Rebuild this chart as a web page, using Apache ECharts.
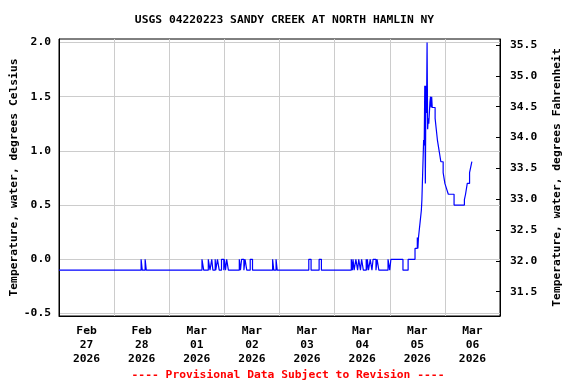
<!DOCTYPE html>
<html>
<head>
<meta charset="utf-8">
<script src="https://cdn.jsdelivr.net/npm/echarts@6/dist/echarts.min.js"></script>
<style>
html,body{margin:0;padding:0;background:#fff;}
#chart{width:576px;height:384px;}
</style>
</head>
<body>
<div id="chart"></div>
<script>
// ---- Data ----
const titleText = 'USGS 04220223 SANDY CREEK AT NORTH HAMLIN NY';
const footerText = '---- Provisional Data Subject to Revision ----';
const leftAxisName = 'Temperature, water, degrees Celsius';
const rightAxisName = 'Temperature, water, degrees Fahrenheit';

// day labels (centered on each day)
const dayLabels = ['Feb\n27\n2026','Feb\n28\n2026','Mar\n01\n2026','Mar\n02\n2026','Mar\n03\n2026','Mar\n04\n2026','Mar\n05\n2026','Mar\n06\n2026'];
const celsiusTicks = [-0.5, 0.0, 0.5, 1.0, 1.5, 2.0];
const fahrenheitTicks = [31.5, 32.0, 32.5, 33.0, 33.5, 34.0, 34.5, 35.0, 35.5];

// times where the reading changes (2026, MM-DD HH:MM) and the value from then on (deg C)
const changeTimes = [
 '02-27 00:00',
 '02-28 11:45','02-28 12:15','02-28 13:30','02-28 14:00',
 '03-01 14:15','03-01 15:00','03-01 17:00','03-01 17:45','03-01 18:30','03-01 19:00',
 '03-01 20:00','03-01 20:15','03-01 21:00','03-01 21:45','03-01 22:45','03-01 23:45',
 '03-02 00:00','03-02 00:30','03-02 01:00','03-02 01:45','03-02 06:30','03-02 07:00',
 '03-02 07:30','03-02 08:30','03-02 09:00','03-02 09:45','03-02 11:15','03-02 12:15',
 '03-02 21:00','03-02 21:30','03-02 22:30','03-02 23:00',
 '03-03 12:45','03-03 13:45','03-03 17:15','03-03 18:15',
 '03-04 07:15','03-04 07:45','03-04 08:00','03-04 08:30','03-04 09:15','03-04 10:00',
 '03-04 10:30','03-04 11:15','03-04 11:45','03-04 12:30','03-04 13:45','03-04 14:00',
 '03-04 14:15','03-04 14:45','03-04 15:30','03-04 16:15','03-04 16:45','03-04 18:00',
 '03-04 18:30','03-04 19:15','03-04 23:15',
 '03-05 00:00','03-05 00:30','03-05 05:45','03-05 08:00',
 '03-05 11:00','03-05 12:00','03-05 12:15','03-05 12:30','03-05 12:45','03-05 13:15',
 '03-05 13:45','03-05 14:00','03-05 14:45','03-05 15:00','03-05 15:15','03-05 15:30',
 '03-05 15:45','03-05 16:00','03-05 16:15','03-05 16:30','03-05 16:45','03-05 17:00',
 '03-05 17:30','03-05 17:45','03-05 18:00','03-05 18:15','03-05 18:30','03-05 19:45',
 '03-05 20:15','03-05 20:45','03-05 21:30','03-05 22:15','03-05 23:15',
 '03-06 00:00','03-06 00:45','03-06 01:30','03-06 04:00','03-06 08:30','03-06 09:00',
 '03-06 09:45','03-06 10:45','03-06 11:15','03-06 11:45'
];
const tempC = [
 -0.1,
 0.0,-0.1,0.0,-0.1,
 0.0,-0.1,0.0,-0.1,0.0,-0.1,
 0.0,-0.1,0.0,-0.1,0.0,-0.1,
 0.0,-0.1,0.0,-0.1,0.0,-0.1,
 0.0,-0.1,0.0,-0.1,0.0,-0.1,
 0.0,-0.1,0.0,-0.1,
 0.0,-0.1,0.0,-0.1,
 0.0,-0.1,0.0,-0.1,0.0,-0.1,
 0.0,-0.1,0.0,-0.1,0.0,-0.1,
 0.0,-0.1,0.0,-0.1,0.0,-0.1,
 0.0,-0.1,0.0,
 -0.1,0.0,-0.1,0.0,
 0.1,0.2,0.1,0.2,0.25,0.35,
 0.45,0.55,1.1,1.05,1.6,0.7,
 1.6,1.35,2.0,1.2,1.3,1.25,
 1.45,1.5,1.4,1.5,1.4,1.3,
 1.2,1.1,1.0,0.9,0.8,
 0.7,0.65,0.6,0.5,0.55,0.6,
 0.7,0.8,0.85,0.9
];

// ---- build ----
const start = Date.UTC(2026, 1, 27, 0, 0);
function toHours(s) {
  const mo = +s.slice(0,2), d = +s.slice(3,5), h = +s.slice(6,8), mi = +s.slice(9,11);
  return (Date.UTC(2026, mo - 1, d, h, mi) - start) / 3600000;
}
const seriesData = changeTimes.map((t, i) => [toHours(t), tempC[i]]);
const labelHours = dayLabels.map((_, i) => i * 24 + 12);

const FONT = '"DejaVu Sans Mono", monospace';

const chart = echarts.init(document.getElementById('chart'), null, {renderer: 'canvas'});
chart.setOption({
  animation: false,
  backgroundColor: '#fff',
  title: {
    text: titleText,
    left: 279.5, top: 10, textAlign: 'center',
    textStyle: {fontFamily: FONT, fontSize: 11.3, fontWeight: 'bold', color: '#000'}
  },
  graphic: [{
    type: 'text', left: 'center', top: 370,
    style: {text: footerText, fill: '#ff0000', font: 'bold 11.3px "DejaVu Sans Mono", monospace'}
  }],
  grid: {left: 59, right: 76, top: 39, bottom: 68, show: true, borderColor: '#000', borderWidth: 1,
         containLabel: false, outerBoundsMode: 'none'},
  xAxis: {
    type: 'value', min: 0, max: 192, interval: 24,
    axisLine: {show: true, onZero: false, lineStyle: {color: '#000', width: 1}},
    axisTick: {show: false},
    splitLine: {show: true, lineStyle: {color: '#cccccc', width: 1}},
    axisLabel: {
      customValues: labelHours,
      formatter: v => dayLabels[Math.round((v - 12) / 24)] || '',
      fontFamily: FONT, fontSize: 11.3, fontWeight: 'bold', color: '#000',
      lineHeight: 14, margin: 8, align: 'center'
    }
  },
  yAxis: [{
    type: 'value', min: -0.523, max: 2.032,
    name: leftAxisName, nameLocation: 'middle', nameRotate: 90, nameGap: 39, nameMoveOverlap: false,
    nameTextStyle: {fontFamily: FONT, fontSize: 11.3, fontWeight: 'bold', color: '#000'},
    axisLine: {show: true, lineStyle: {color: '#000', width: 1}},
    axisTick: {show: false, customValues: celsiusTicks},
    splitLine: {show: true, lineStyle: {color: '#cccccc', width: 1}},
    axisLabel: {
      customValues: celsiusTicks,
      formatter: v => v.toFixed(1),
      fontFamily: FONT, fontSize: 11.3, fontWeight: 'bold', color: '#000', margin: 8
    }
  }, {
    type: 'value', min: 31.106, max: 35.597, position: 'right',
    name: rightAxisName, nameLocation: 'middle', nameRotate: 90, nameGap: 52,
    nameTextStyle: {fontFamily: FONT, fontSize: 11.3, fontWeight: 'bold', color: '#000'},
    axisLine: {show: true, lineStyle: {color: '#000', width: 1}},
    axisTick: {show: true, inside: true, length: 4, customValues: fahrenheitTicks, lineStyle: {color: '#000'}},
    splitLine: {show: false},
    axisLabel: {
      customValues: fahrenheitTicks,
      formatter: v => v.toFixed(1),
      fontFamily: FONT, fontSize: 11.3, fontWeight: 'bold', color: '#000', margin: 10
    }
  }],
  series: [{
    type: 'line', step: 'end', data: seriesData, yAxisIndex: 0,
    showSymbol: false, symbol: 'none',
    lineStyle: {color: '#0000ff', width: 1.2},
    itemStyle: {color: '#0000ff'}
  }]
});
</script>
</body>
</html>
